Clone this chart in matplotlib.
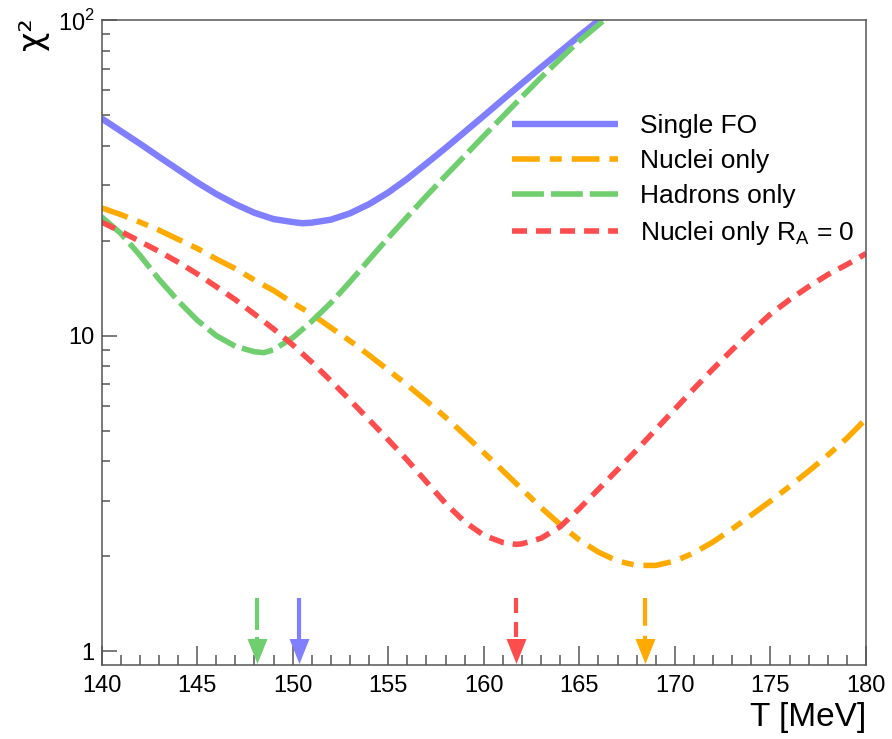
#!/usr/bin/env python3
import matplotlib
matplotlib.use("Agg")
import matplotlib.pyplot as plt
from matplotlib.ticker import FixedLocator, NullFormatter, LogLocator

plt.rcParams['font.family'] = ['Liberation Sans', 'DejaVu Sans']
plt.rcParams['mathtext.fontset'] = 'custom'
plt.rcParams['mathtext.rm'] = 'Liberation Sans'
plt.rcParams['lines.scale_dashes'] = False

# --- data ---
T_single = [140, 141, 142, 143, 144, 145, 146, 147, 148, 149, 150, 150.5, 151, 152, 153,
            154, 155, 156, 157, 158, 159, 160, 161, 162, 163, 164, 165, 166.3]
chi_single = [48.8, 44.5, 40.6, 36.9, 33.6, 30.6, 28.1, 26.1, 24.5, 23.4, 22.9, 22.7, 22.8, 23.3, 24.4,
              26.1, 28.4, 31.4, 35.1, 39.3, 44.2, 49.7, 56.0, 63.0, 70.8, 79.4, 89.1, 103.0]

T_nuclei = [140, 141, 142, 143, 144, 145, 146, 147, 148, 149, 150, 151, 152, 153, 154, 155,
            156, 157, 158, 159, 160, 161, 162, 163, 164, 165, 166, 167, 168, 169, 170,
            171, 172, 173, 174, 175, 176, 177, 178, 179, 180]
chi_nuclei = [25.4, 24.2, 22.9, 21.6, 20.2, 18.9, 17.5, 16.3, 15.0, 13.9, 12.7, 11.7, 10.6, 9.62, 8.67, 7.78,
              6.97, 6.21, 5.51, 4.85, 4.26, 3.73, 3.26, 2.85, 2.52, 2.25, 2.06, 1.93, 1.87, 1.87, 1.93,
              2.05, 2.22, 2.44, 2.70, 2.99, 3.33, 3.72, 4.18, 4.73, 5.45]

T_hadrons = [140, 141, 142, 143, 144, 145, 146, 147, 148, 148.5, 149, 150, 151, 152, 153,
             154, 155, 156, 157, 158, 159, 160, 161, 162, 163, 164, 165, 166.3]
chi_hadrons = [23.8, 21.1, 18.0, 15.1, 12.9, 11.2, 10.0, 9.25, 8.89, 8.83, 9.02, 9.84, 11.1, 12.7, 14.8,
               17.4, 20.4, 23.8, 27.7, 32.1, 37.1, 42.9, 49.5, 57.1, 65.8, 75.3, 85.9, 100.0]

T_ra0 = [140, 141, 142, 143, 144, 145, 146, 147, 148, 149, 150, 151, 152, 153, 154, 155,
         156, 157, 158, 159, 160, 161, 161.7, 162, 163, 164, 165, 166, 167, 168, 169, 170,
         171, 172, 173, 174, 175, 176, 177, 178, 179, 180]
chi_ra0 = [22.9, 21.4, 19.9, 18.5, 17.1, 15.7, 14.3, 13.0, 11.7, 10.5, 9.35, 8.24, 7.19, 6.25, 5.41, 4.68,
           4.03, 3.44, 2.94, 2.57, 2.33, 2.21, 2.18, 2.19, 2.28, 2.48, 2.83, 3.26, 3.76, 4.34, 5.04, 5.85,
           6.79, 7.85, 9.02, 10.3, 11.7, 13.0, 14.3, 15.6, 16.8, 18.2]

# minima marked by arrows: (single, nuclei, hadrons, RA=0)
T_min = [150.35, 168.45, 148.15, 161.7]

labels = ["Single FO", "Nuclei only", "Hadrons only", r"Nuclei only R$_{\mathregular{A}}$ = 0"]
colors = ["#7f7fff", "#ffaa00", "#6fcf6f", "#ff4c4c"]
styles = ["-", (0, (20, 7.2, 8.6, 7.2)), (0, (23, 5)), (0, (10.8, 6.5))]
widths = [4.6, 4.0, 4.0, 4.0]

fig = plt.figure(figsize=(8.92, 7.39), dpi=100)
ax = fig.add_axes([0.1138, 0.1001, 0.8571, 0.8728])

series = [(T_single, chi_single), (T_nuclei, chi_nuclei),
          (T_hadrons, chi_hadrons), (T_ra0, chi_ra0)]
for (t, c), lab, col, ls, lw in zip(series, labels, colors, styles, widths):
    ax.plot(t, c, color=col, linestyle=ls, lw=lw, label=lab,
            dash_capstyle='butt', solid_capstyle='butt', solid_joinstyle='round')

# arrows at the minima
head = [(-0.4, 0.5), (0.4, 0.5), (0.0, -0.5)]
for tm, col, ls in zip(T_min, colors, styles):
    ax.plot([tm, tm], [1.47, 1.08], color=col, linestyle=ls, lw=3.0,
            dash_capstyle='butt', solid_capstyle='butt', clip_on=False)
    ax.plot([tm], [1.0], marker=head, markersize=18, color=col,
            markeredgewidth=0, linestyle='none', clip_on=False)

ax.set_xlim(140, 180)
ax.set_yscale('log')
ax.set_ylim(0.904, 100)

# ROOT-like axes
frame_col = "#555555"
for side in ['left', 'bottom', 'top', 'right']:
    ax.spines[side].set_color(frame_col)
    ax.spines[side].set_linewidth(1.1)

ax.xaxis.set_major_locator(FixedLocator([140, 145, 150, 155, 160, 165, 170, 175, 180]))
ax.xaxis.set_minor_locator(FixedLocator(range(140, 181)))
ax.yaxis.set_major_locator(FixedLocator([1, 10, 100]))
ax.yaxis.set_minor_locator(LogLocator(base=10, subs=range(2, 10)))
ax.yaxis.set_minor_formatter(NullFormatter())
ax.set_yticklabels(["1", "10", r"10$^{\mathregular{2}}$"])

ax.tick_params(axis='x', which='major', direction='in', length=14, width=1.1,
               color=frame_col, labelsize=17, pad=7)
ax.tick_params(axis='x', which='minor', direction='in', length=7, width=1.1, color=frame_col)
ax.tick_params(axis='y', which='major', direction='in', length=11, width=1.1,
               color=frame_col, labelsize=17, pad=5)
ax.tick_params(axis='y', which='minor', direction='in', length=6, width=1.1, color=frame_col)

ax.set_xlabel("T [MeV]", fontsize=24, loc='right', labelpad=4)
fig.text(32 / 892, 1 - 34 / 739, "χ²", rotation=90, fontsize=24,
         family=['DejaVu Sans'], ha='center', va='center')

ax.legend(loc='upper left', bbox_to_anchor=(0.537, 0.854), frameon=False,
          fontsize=19, handlelength=4.0, handletextpad=0.85, labelspacing=0.42,
          borderpad=0, borderaxespad=0)

plt.savefig("out.png", dpi=100)
